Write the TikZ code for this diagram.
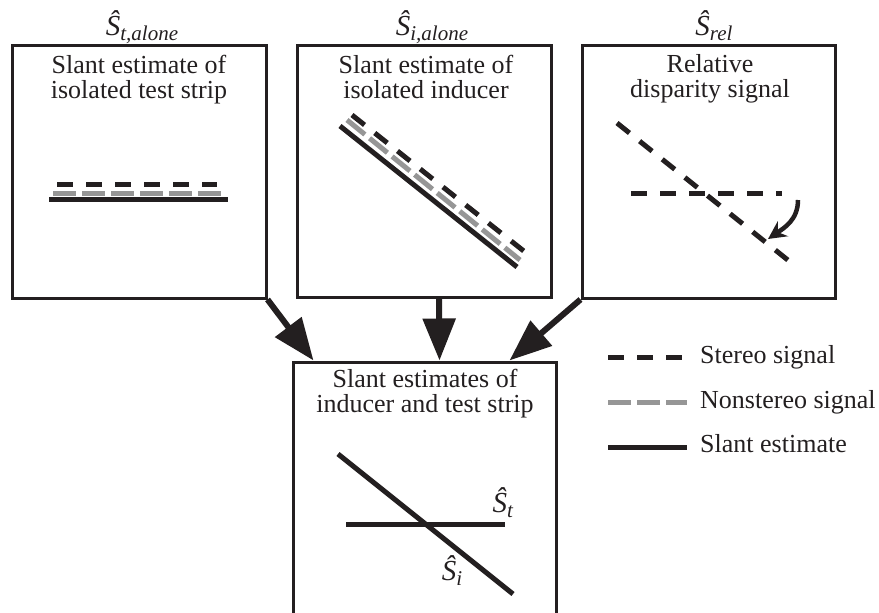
\documentclass[tikz,border=0pt]{standalone}
\usepackage{fontspec}
\setmainfont{Liberation Serif}
\usetikzlibrary{arrows.meta,calc}
\definecolor{ink}{RGB}{35,31,32}
\definecolor{nsgray}{RGB}{150,150,150}
\newcommand\slab[1]{{\fontsize{29}{29}\selectfont\textit{Ŝ}}\raisebox{-5pt}{\fontsize{21}{21}\selectfont\textit{#1}}}
\tikzset{
 box/.style={draw=ink, line width=3pt, inner sep=0pt},
 txt/.style={font=\fontsize{26}{24.5}\selectfont, text=ink, align=center, inner sep=0pt},
 lab/.style={text=ink, inner sep=0pt, anchor=base},
 stereo/.style={draw=ink, line width=5pt, dash pattern=on 16pt off 13pt},
 nonstereo/.style={draw=nsgray, line width=5pt, dash pattern=on 23pt off 6pt},
 slant/.style={draw=ink, line width=5pt},
 bigarrow/.style={draw=ink, fill=ink, line width=6pt, -{Triangle[length=42pt,width=32pt]}},
}
\begin{document}
\begin{tikzpicture}[x=1pt,y=-1pt]
\useasboundingbox (0,0) rectangle (879,613);
\clip (0,0) rectangle (879,613);
% boxes
\node[box, minimum width=254pt, minimum height=253pt] (b1) at (139,171.5) {};
\node[box, minimum width=254pt, minimum height=252pt] (b2) at (424,171) {};
\node[box, minimum width=253pt, minimum height=253pt] (b3) at (708.5,171.5) {};
\node[box, minimum width=263pt, minimum height=260pt] (b4) at (424.5,492) {};
% labels above
\node[lab] (l1) at (142,35) {\slab{t,alone}};
\node[lab] (l2) at (432,35) {\slab{i,alone}};
\node[lab] (l3) at (714,35) {\slab{rel}};
% box titles (anchor base = last line)
\node[txt, anchor=base] (t1) at (139,98) {Slant estimate of\\isolated test strip};
\node[txt, anchor=base] (t2) at (426,98) {Slant estimate of\\isolated inducer};
\node[txt, anchor=base] (t3) at (710,97) {Relative\\disparity signal};
\node[txt, anchor=base] (t4) at (425,412) {Slant estimates of\\inducer and test strip};
% box 1 contents
\draw[stereo] (57,184) -- (217,184);
\draw[nonstereo] (53,193) -- (221,193);
\draw[slant] (49,199) -- (228,199);
% box 2 contents
\draw[slant] (340,126) -- (517,267);
\draw[nonstereo] (347,120) -- (520,260);
\draw[stereo] (352,115) -- (525,252);
% box 3 contents
\draw[stereo] (617,123) -- (789,261);
\draw[stereo] (631,193) -- (782,193);
\draw[ink, line width=4.5pt, -{Stealth[length=18pt,width=18pt,inset=6pt]}] (798,200) .. controls (798,220) and (784,228) .. (768,239);
% bottom box contents
\draw[slant] (338,454) -- (513,594);
\draw[slant] (346,524) -- (505,524);
\node[lab] (st) at (503,512) {\slab{t}};
\node[lab] (si) at (452,580) {\slab{i}};
% arrows
\draw[bigarrow] (b1.south east) -- ($(b4.north west)+(22,0)$);
\draw[bigarrow] ($(b2.south)+(15,0)$) -- ($(b4.north)+(15,0)$);
\draw[bigarrow] (b3.south west) -- ($(b4.north east)+(-48,0)$);
% legend
\draw[stereo] (608,357) -- (687,357);
\draw[nonstereo] (608,402) -- (687,402);
\draw[slant] (608,447) -- (687,447);
\node[txt, anchor=base west] (g1) at (700,363) {Stereo signal};
\node[txt, anchor=base west] (g2) at (700,408) {Nonstereo signal};
\node[txt, anchor=base west] (g3) at (700,452) {Slant estimate};
\end{tikzpicture}
\end{document}
